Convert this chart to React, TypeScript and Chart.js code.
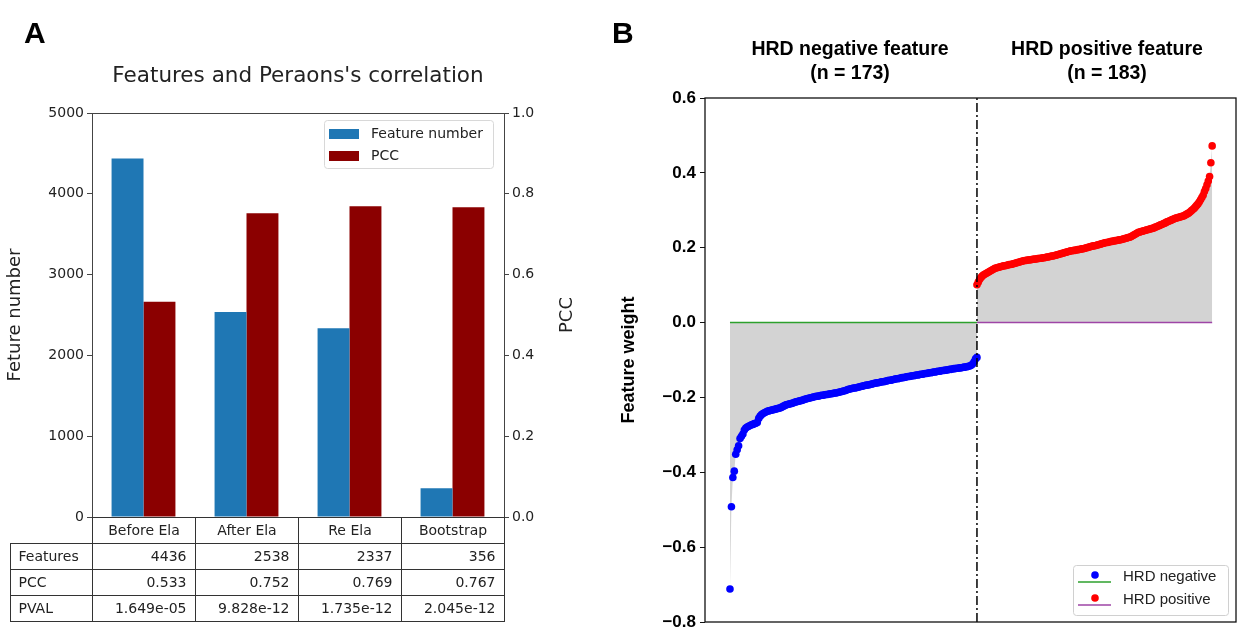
import React, { useEffect, useRef } from 'react';
import { Chart, registerables } from 'chart.js';
Chart.register(...registerables);

// ---------- Panel A data ----------
const categories = ['Before Ela', 'After Ela', 'Re Ela', 'Bootstrap'];
const featureCounts = [4436, 2538, 2337, 356];
const pccValues = [0.533, 0.752, 0.769, 0.767];
const pvalTexts = ['1.649e-05', '9.828e-12', '1.735e-12', '2.045e-12'];
const tableRowLabels = ['Features', 'PCC', 'PVAL'];
const panelATitle = "Features and Peraons's correlation";

// ---------- Panel B data ----------
const negativeWeights = [
  -0.712, -0.492, -0.414, -0.397, -0.352, -0.340, -0.329, -0.310, -0.304, -0.298,
  -0.287, -0.282, -0.279, -0.277, -0.275, -0.273, -0.272, -0.270, -0.269, -0.267,
  -0.256, -0.250, -0.246, -0.243, -0.241, -0.239, -0.237, -0.236, -0.235, -0.234,
  -0.233, -0.232, -0.231, -0.230, -0.229, -0.228, -0.226, -0.224, -0.222, -0.220,
  -0.219, -0.218, -0.217, -0.216, -0.215, -0.213, -0.212, -0.211, -0.210, -0.209,
  -0.208, -0.207, -0.205, -0.204, -0.203, -0.202, -0.201, -0.200, -0.199, -0.198,
  -0.197, -0.197, -0.196, -0.195, -0.194, -0.194, -0.193, -0.192, -0.192, -0.191,
  -0.190, -0.190, -0.189, -0.188, -0.188, -0.187, -0.186, -0.185, -0.184, -0.183,
  -0.182, -0.181, -0.179, -0.178, -0.177, -0.176, -0.175, -0.175, -0.174, -0.173,
  -0.172, -0.171, -0.170, -0.169, -0.168, -0.167, -0.167, -0.166, -0.165, -0.164,
  -0.163, -0.162, -0.161, -0.161, -0.160, -0.159, -0.158, -0.158, -0.157, -0.156,
  -0.155, -0.154, -0.154, -0.153, -0.152, -0.151, -0.150, -0.150, -0.149, -0.148,
  -0.147, -0.147, -0.146, -0.145, -0.144, -0.144, -0.143, -0.142, -0.142, -0.141,
  -0.140, -0.140, -0.139, -0.138, -0.138, -0.137, -0.136, -0.136, -0.135, -0.134,
  -0.134, -0.133, -0.132, -0.132, -0.131, -0.130, -0.130, -0.129, -0.128, -0.128,
  -0.127, -0.127, -0.126, -0.125, -0.125, -0.124, -0.123, -0.123, -0.122, -0.122,
  -0.121, -0.121, -0.120, -0.119, -0.119, -0.118, -0.117, -0.116, -0.114, -0.111,
  -0.105, -0.097, -0.093,
];
const positiveWeights = [
  0.101, 0.108, 0.115, 0.120, 0.124, 0.127, 0.129, 0.131, 0.133, 0.135,
  0.137, 0.139, 0.141, 0.143, 0.145, 0.146, 0.147, 0.148, 0.149, 0.150,
  0.151, 0.152, 0.152, 0.153, 0.154, 0.155, 0.155, 0.156, 0.157, 0.158,
  0.159, 0.160, 0.161, 0.162, 0.163, 0.164, 0.165, 0.166, 0.166, 0.167,
  0.167, 0.168, 0.168, 0.169, 0.169, 0.170, 0.170, 0.171, 0.171, 0.172,
  0.172, 0.173, 0.173, 0.174, 0.175, 0.175, 0.176, 0.177, 0.178, 0.178,
  0.179, 0.180, 0.181, 0.182, 0.183, 0.184, 0.185, 0.186, 0.187, 0.188,
  0.189, 0.190, 0.191, 0.192, 0.192, 0.193, 0.193, 0.194, 0.195, 0.195,
  0.196, 0.197, 0.197, 0.198, 0.199, 0.200, 0.201, 0.202, 0.203, 0.204,
  0.205, 0.205, 0.206, 0.207, 0.208, 0.209, 0.210, 0.211, 0.212, 0.213,
  0.214, 0.214, 0.215, 0.216, 0.217, 0.217, 0.218, 0.219, 0.219, 0.220,
  0.221, 0.221, 0.222, 0.223, 0.224, 0.225, 0.226, 0.227, 0.228, 0.229,
  0.231, 0.233, 0.235, 0.237, 0.239, 0.241, 0.242, 0.243, 0.244, 0.245,
  0.246, 0.247, 0.248, 0.249, 0.250, 0.251, 0.252, 0.253, 0.255, 0.256,
  0.258, 0.259, 0.261, 0.262, 0.264, 0.265, 0.267, 0.269, 0.270, 0.272,
  0.273, 0.275, 0.276, 0.278, 0.279, 0.280, 0.281, 0.282, 0.283, 0.284,
  0.285, 0.287, 0.289, 0.291, 0.293, 0.296, 0.299, 0.302, 0.305, 0.309,
  0.313, 0.317, 0.322, 0.328, 0.334, 0.340, 0.350, 0.358, 0.368, 0.378,
  0.390, 0.427, 0.472,
];
const weightTicksMin = -0.8;
const weightTicksMax = 0.6;
const groupHeaders = [
  ['HRD negative feature', `(n = ${negativeWeights.length})`],
  ['HRD positive feature', `(n = ${positiveWeights.length})`],
];
const legendLabelsB = ['HRD negative', 'HRD positive'];

const BLUE_BAR = '#1f77b4';
const RED_BAR = '#8b0000';
const GREEN = '#2ca02c';
const PURPLE = '#9e45a6';
const DV = '"DejaVu Sans", sans-serif';
const AR = '"Liberation Sans", Arial, sans-serif';

function rotatedText(ctx: CanvasRenderingContext2D, text: string, x: number, y: number) {
  ctx.save();
  ctx.translate(x, y);
  ctx.rotate(-Math.PI / 2);
  ctx.textAlign = 'center';
  ctx.textBaseline = 'middle';
  ctx.fillText(text, 0, 0);
  ctx.restore();
}

function roundRect(ctx: CanvasRenderingContext2D, x: number, y: number, w: number, h: number, r: number) {
  ctx.beginPath();
  ctx.moveTo(x + r, y);
  ctx.lineTo(x + w - r, y);
  ctx.arcTo(x + w, y, x + w, y + r, r);
  ctx.lineTo(x + w, y + h - r);
  ctx.arcTo(x + w, y + h, x + w - r, y + h, r);
  ctx.lineTo(x + r, y + h);
  ctx.arcTo(x, y + h, x, y + h - r, r);
  ctx.lineTo(x, y + r);
  ctx.arcTo(x, y, x + r, y, r);
  ctx.closePath();
}

const panelAPlugin = {
  id: 'panelADecor',
  afterDraw(chart: any) {
    const ctx: CanvasRenderingContext2D = chart.ctx;
    const a = chart.chartArea;
    const L = Math.round(a.left) + 0.5;
    const R = Math.round(a.right) + 0.5;
    const T = Math.round(a.top) + 0.5;
    const B = Math.round(a.bottom) + 0.5;
    ctx.save();
    // frame
    ctx.strokeStyle = '#444';
    ctx.lineWidth = 1;
    ctx.strokeRect(L, T, R - L, B - T);

    // title
    ctx.fillStyle = '#222';
    ctx.font = `21.5px ${DV}`;
    ctx.textAlign = 'center';
    ctx.textBaseline = 'middle';
    ctx.fillText(panelATitle, (a.left + a.right) / 2, 76);

    // axis titles
    ctx.font = `18px ${DV}`;
    rotatedText(ctx, 'Feture number', 15, (a.top + a.bottom) / 2);
    rotatedText(ctx, 'PCC', 567, (a.top + a.bottom) / 2);

    // legend
    const lw = 169, lh = 48;
    const lx = a.right - 11 - lw, ly = a.top + 7;
    ctx.fillStyle = 'rgba(255,255,255,0.85)';
    roundRect(ctx, lx + 0.5, ly + 0.5, lw, lh, 3);
    ctx.fill();
    ctx.strokeStyle = '#d8d8d8';
    ctx.stroke();
    const ds = chart.data.datasets;
    ds.forEach((d: any, i: number) => {
      const cy = ly + 14 + i * 22;
      ctx.fillStyle = d.backgroundColor;
      ctx.fillRect(lx + 5, cy - 5, 30, 10);
      ctx.fillStyle = '#222';
      ctx.font = `14px ${DV}`;
      ctx.textAlign = 'left';
      ctx.textBaseline = 'middle';
      ctx.fillText(d.label, lx + 47, cy);
    });

    // table
    const n = categories.length;
    const colW = (a.right - a.left) / n;
    const rowH = 26;
    const tableLeft = 10.5;
    ctx.strokeStyle = '#333';
    ctx.lineWidth = 1;
    ctx.font = `14px ${DV}`;
    ctx.fillStyle = '#222';
    ctx.textBaseline = 'middle';
    for (let i = 0; i < n; i++) {
      const x0 = Math.round(a.left + i * colW) + 0.5;
      const x1 = Math.round(a.left + (i + 1) * colW) + 0.5;
      ctx.strokeRect(x0, B, x1 - x0, rowH);
      ctx.textAlign = 'center';
      ctx.fillText(categories[i], (x0 + x1) / 2, B + rowH / 2 + 1);
    }
    const rows = [
      featureCounts.map((v) => String(v)),
      pccValues.map((v) => v.toFixed(3)),
      pvalTexts,
    ];
    rows.forEach((row, r) => {
      const y = B + rowH * (r + 1);
      ctx.strokeRect(tableLeft, y, L - tableLeft, rowH);
      ctx.textAlign = 'left';
      ctx.fillText(tableRowLabels[r], tableLeft + 8, y + rowH / 2 + 1);
      for (let i = 0; i < n; i++) {
        const x0 = Math.round(a.left + i * colW) + 0.5;
        const x1 = Math.round(a.left + (i + 1) * colW) + 0.5;
        ctx.strokeRect(x0, y, x1 - x0, rowH);
        ctx.textAlign = 'right';
        ctx.fillText(row[i], x1 - 9, y + rowH / 2 + 1);
      }
    });
    ctx.restore();
  },
};

const panelBPlugin = {
  id: 'panelBDecor',
  afterDraw(chart: any) {
    const ctx: CanvasRenderingContext2D = chart.ctx;
    const a = chart.chartArea;
    ctx.save();
    ctx.strokeStyle = '#111';
    ctx.lineWidth = 1.3;
    ctx.strokeRect(a.left, a.top, a.right - a.left, a.bottom - a.top);

    ctx.fillStyle = '#000';
    ctx.font = `bold 19.5px ${AR}`;
    ctx.textAlign = 'center';
    ctx.textBaseline = 'middle';
    const centers = [230, 487];
    groupHeaders.forEach((h, i) => {
      ctx.fillText(h[0], centers[i], 50);
      ctx.fillText(h[1], centers[i], 74);
    });
    ctx.font = `bold 18px ${AR}`;
    rotatedText(ctx, 'Feature weight', 9, (a.top + a.bottom) / 2);

    // legend
    const lw = 155, lh = 50;
    const lx = a.right - 8 - lw, ly = a.bottom - 7 - lh;
    ctx.fillStyle = 'rgba(255,255,255,0.85)';
    roundRect(ctx, lx + 0.5, ly + 0.5, lw, lh, 3);
    ctx.fill();
    ctx.strokeStyle = '#d0d0d0';
    ctx.lineWidth = 1;
    ctx.stroke();
    const markerColors = ['#0000ff', '#ff0000'];
    const lineColors = [GREEN, PURPLE];
    legendLabelsB.forEach((lab, i) => {
      const base = ly + 17 + i * 23;
      ctx.strokeStyle = lineColors[i];
      ctx.lineWidth = 1.5;
      ctx.beginPath();
      ctx.moveTo(lx + 5, base);
      ctx.lineTo(lx + 38, base);
      ctx.stroke();
      ctx.fillStyle = markerColors[i];
      ctx.beginPath();
      ctx.arc(lx + 22, base - 7, 3.8, 0, Math.PI * 2);
      ctx.fill();
      ctx.fillStyle = '#222';
      ctx.font = `15px ${AR}`;
      ctx.textAlign = 'left';
      ctx.textBaseline = 'middle';
      ctx.fillText(lab, lx + 50, base - 5);
    });
    ctx.restore();
  },
};

export default function App() {
  const refA = useRef<HTMLCanvasElement>(null);
  const refB = useRef<HTMLCanvasElement>(null);

  useEffect(() => {
    document.body.style.margin = '0';
    const chartA = new Chart(refA.current as HTMLCanvasElement, {
      type: 'bar',
      data: {
        labels: categories,
        datasets: [
          { label: 'Feature number', data: featureCounts, backgroundColor: BLUE_BAR, yAxisID: 'y', borderWidth: 0 },
          { label: 'PCC', data: pccValues, backgroundColor: RED_BAR, yAxisID: 'y1', borderWidth: 0 },
        ],
      },
      options: {
        responsive: false,
        maintainAspectRatio: false,
        animation: false,
        devicePixelRatio: 1,
        events: [],
        layout: { padding: { top: 113, bottom: 121, left: 0, right: 0 } },
        datasets: { bar: { categoryPercentage: 0.62, barPercentage: 1.0 } },
        plugins: { legend: { display: false }, tooltip: { enabled: false }, title: { display: false } },
        scales: {
          x: { display: false },
          y: {
            position: 'left',
            min: 0,
            max: 5000,
            ticks: {
              stepSize: 1000, color: '#222', font: { family: DV, size: 14 }, padding: 3,
              callback: (v: any) => String(Math.round(Number(v))),
            },
            grid: { drawOnChartArea: false, drawTicks: true, tickLength: 5, color: '#444' },
            border: { display: false },
            afterFit: (s: any) => { s.width = 92; },
          },
          y1: {
            position: 'right',
            min: 0,
            max: 1,
            ticks: {
              stepSize: 0.2,
              color: '#222',
              font: { family: DV, size: 14 },
              padding: 3,
              callback: (v: any) => Number(v).toFixed(1),
            },
            grid: { drawOnChartArea: false, drawTicks: true, tickLength: 5, color: '#444' },
            border: { display: false },
            afterFit: (s: any) => { s.width = 116; },
          },
        },
      } as any,
      plugins: [panelAPlugin],
    });

    const negLast = negativeWeights.length - 1;
    const posSpacing = 0.9;
    const negPoints = negativeWeights.map((v, i) => ({ x: i, y: v }));
    const posPoints = positiveWeights.map((v, j) => ({ x: negLast + j * posSpacing, y: v }));
    const posLastX = posPoints[posPoints.length - 1].x;

    const chartB = new Chart(refB.current as HTMLCanvasElement, {
      type: 'scatter',
      data: {
        datasets: [
          {
            type: 'line', data: [{ x: negLast, y: weightTicksMin }, { x: negLast, y: weightTicksMax }],
            borderColor: '#000', borderWidth: 1.5, borderDash: [9, 3, 2, 3], pointRadius: 0, order: 0,
          },
          { data: negPoints, backgroundColor: '#0000ff', pointRadius: 3.8, borderWidth: 0, order: 1 },
          { data: posPoints, backgroundColor: '#ff0000', pointRadius: 3.8, borderWidth: 0, order: 1 },
          {
            type: 'line', data: [{ x: 0, y: 0 }, { x: negLast, y: 0 }],
            borderColor: GREEN, borderWidth: 1.5, pointRadius: 0, order: 2,
          },
          {
            type: 'line', data: [{ x: negLast, y: 0 }, { x: posLastX, y: 0 }],
            borderColor: PURPLE, borderWidth: 1.5, pointRadius: 0, order: 2,
          },
          {
            type: 'line', data: negPoints, borderWidth: 0, borderColor: 'rgba(0,0,0,0)', pointRadius: 0,
            fill: 'origin', backgroundColor: '#d3d3d3', tension: 0, order: 3,
          },
          {
            type: 'line', data: posPoints, borderWidth: 0, borderColor: 'rgba(0,0,0,0)', pointRadius: 0,
            fill: 'origin', backgroundColor: '#d3d3d3', tension: 0, order: 3,
          },
        ] as any,
      },
      options: {
        responsive: false,
        maintainAspectRatio: false,
        animation: false,
        devicePixelRatio: 1,
        events: [],
        layout: { padding: { top: 98, bottom: 16, left: 0, right: 4 } },
        plugins: { legend: { display: false }, tooltip: { enabled: false } },
        scales: {
          x: { type: 'linear', display: false, min: -17.4, max: 352.4 },
          y: {
            position: 'left',
            min: weightTicksMin,
            max: weightTicksMax,
            ticks: {
              stepSize: 0.2,
              color: '#000',
              font: { family: AR, size: 17, weight: 'bold' },
              padding: 4,
              callback: (v: any) => {
                const n = Number(v);
                const s = Math.abs(n).toFixed(1);
                return n < -1e-9 ? '\u2212' + s : s;
              },
            },
            grid: { drawOnChartArea: false, drawTicks: true, tickLength: 5, color: '#111' },
            border: { display: false },
            afterFit: (s: any) => { s.width = 85; },
          },
        },
      } as any,
      plugins: [panelBPlugin],
    });

    return () => {
      chartA.destroy();
      chartB.destroy();
    };
  }, []);

  const letterStyle: React.CSSProperties = {
    position: 'absolute',
    top: 18,
    fontFamily: AR,
    fontWeight: 'bold',
    fontSize: 30,
    lineHeight: '30px',
    color: '#000',
  };

  return (
    <div style={{ position: 'relative', width: 1240, height: 638, background: '#fff', overflow: 'hidden' }}>
      <canvas ref={refA} width={620} height={638} style={{ position: 'absolute', left: 0, top: 0 }} />
      <canvas ref={refB} width={620} height={638} style={{ position: 'absolute', left: 620, top: 0 }} />
      <div style={{ ...letterStyle, left: 24 }}>A</div>
      <div style={{ ...letterStyle, left: 612 }}>B</div>
    </div>
  );
}
